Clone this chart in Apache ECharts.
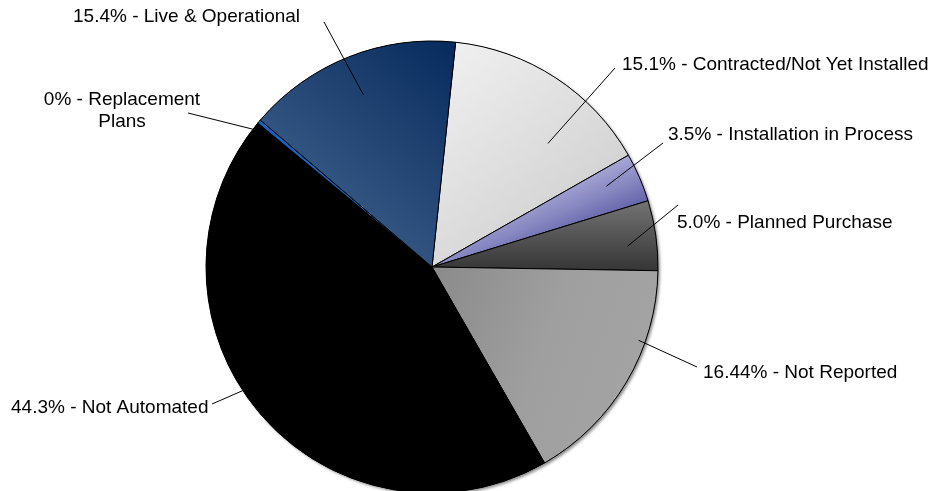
<!DOCTYPE html>
<html>
<head>
<meta charset="utf-8">
<title>Automation Status</title>
<script src="https://cdn.jsdelivr.net/npm/echarts@6/dist/echarts.min.js"></script>
<style>
  html, body { margin: 0; padding: 0; background: #ffffff; }
  #chart { width: 940px; height: 491px; }
</style>
</head>
<body>
<div id="chart"></div>
<script>
// Status categories, clockwise from the top of the pie
const categories = [
  'Contracted/Not Yet Installed',
  'Installation in Process',
  'Planned Purchase',
  'Not Reported',
  'Not Automated',
  'Replacement\nPlans',
  'Live & Operational'
];
// Share of respondents, percent
const shares = [15.1, 3.5, 5.0, 16.44, 44.3, 0, 15.4];
// Decimal places shown for each share
const shareDecimals = [1, 1, 1, 2, 1, 0, 1];

const CX = 432, CY = 267, R = 226;
const START_DEG = 6;     // first slice begins 6 degrees clockwise from 12 o'clock
const MIN_ANGLE = 1;     // smallest drawn slice, degrees

// Mid angle of every slice (degrees clockwise from 12 o'clock), following the
// pie layout: slices under MIN_ANGLE are widened and the rest share what is left.
function sliceMidAngles(values) {
  const total = values.reduce((a, b) => a + b, 0);
  let rest = 360, bigSum = 0;
  const raw = values.map(v => v / total * 360);
  raw.forEach((a, i) => { if (a < MIN_ANGLE) rest -= MIN_ANGLE; else bigSum += values[i]; });
  let acc = START_DEG;
  return values.map((v, i) => {
    const a = raw[i] < MIN_ANGLE ? MIN_ANGLE : v / bigSum * rest;
    const mid = acc + a / 2;
    acc += a;
    return mid;
  });
}
const midAngles = sliceMidAngles(shares);

// Gradient running across a slice (from its leading edge to its trailing edge)
function acrossSlice(i, halfWidth, stops) {
  const t = midAngles[i] * Math.PI / 180;
  const nx = Math.cos(t), ny = Math.sin(t);
  return {
    type: 'linear', global: true,
    x: CX - nx * halfWidth, y: CY - ny * halfWidth,
    x2: CX + nx * halfWidth, y2: CY + ny * halfWidth,
    colorStops: stops
  };
}

// Slice fills
const fills = [
  { type: 'linear', x: 0, y: 0, x2: 1, y2: 1, colorStops: [{ offset: 0, color: '#f2f2f2' }, { offset: 1, color: '#c8c8c8' }] },
  acrossSlice(1, 26, [{ offset: 0, color: '#a8a8d6' }, { offset: 0.5, color: '#8888c2' }, { offset: 1, color: '#6262a8' }]),
  { type: 'linear', x: 0, y: 0, x2: 0, y2: 1, colorStops: [{ offset: 0, color: '#747474' }, { offset: 1, color: '#353535' }] },
  { type: 'linear', x: 0, y: 0, x2: 1, y2: 0.4, colorStops: [{ offset: 0, color: '#8a8a8a' }, { offset: 0.55, color: '#9f9f9f' }, { offset: 1, color: '#a4a4a4' }] },
  '#000000',
  '#1563c4',
  { type: 'linear', x: 0, y: 1, x2: 1, y2: 0, colorStops: [{ offset: 0, color: '#4a6c96' }, { offset: 1, color: '#062a5c' }] }
];

// Label placement: text anchor, outer end of the leader line,
// and where the line ends inside the slice (fraction of radius, angle nudge in degrees)
const labelPlacement = [
  { x: 622, y: 65,  align: 'left',   end: [615, 68],  frac: 0.75, turn: 10 },
  { x: 668, y: 135, align: 'left',   end: [663, 143], frac: 0.85, turn: -1.5 },
  { x: 677, y: 223, align: 'left',   end: [678, 205], frac: 0.87, turn: 2 },
  { x: 703, y: 373, align: 'left',   end: [697, 367], frac: 0.97, turn: -11 },
  { x: 11,  y: 408, align: 'left',   end: [212, 404], frac: 1.0,  turn: 7 },
  { x: 122, y: 111, align: 'center', end: [188, 113], frac: 1.0,  turn: -2.5 },
  { x: 73,  y: 17,  align: 'left',   end: [324, 22],  frac: 0.82, turn: 0 }
];

// Leader lines: from a point inside each slice out to its label
const leaderLines = labelPlacement.map((place, i) => {
  const a = (midAngles[i] + place.turn) * Math.PI / 180;
  const r = R * place.frac;
  const inner = [CX + r * Math.sin(a), CY - r * Math.cos(a)];
  return {
    type: 'polyline',
    silent: true,
    z: 10,
    shape: { points: [inner, place.end] },
    style: { stroke: '#000', lineWidth: 1, fill: null }
  };
});

const pieData = categories.map((name, i) => ({
  name: name,
  value: shares[i],
  itemStyle: { color: fills[i] }
}));

const chart = echarts.init(document.getElementById('chart'), null, { renderer: 'canvas' });

chart.setOption({
  animation: false,
  backgroundColor: '#ffffff',
  graphic: { elements: leaderLines },
  series: [
    {
      // drop shadow disc behind the pie
      type: 'pie',
      silent: true,
      z: 1,
      center: [CX, CY],
      radius: R,
      label: { show: false },
      labelLine: { show: false },
      data: [{ value: 1 }],
      itemStyle: {
        color: '#000',
        shadowColor: 'rgba(0,0,0,0.45)',
        shadowBlur: 3,
        shadowOffsetX: 2,
        shadowOffsetY: 2
      }
    },
    {
      type: 'pie',
      z: 2,
      center: [CX, CY],
      radius: R,
      startAngle: 90 - START_DEG,
      clockwise: true,
      minAngle: MIN_ANGLE,
      avoidLabelOverlap: false,
      emphasis: { disabled: true },
      itemStyle: { borderColor: '#000', borderWidth: 1 },
      label: {
        show: true,
        position: 'outside',
        fontFamily: '"Liberation Sans", Arial, sans-serif',
        fontSize: 19,
        color: '#000',
        lineHeight: 22,
        formatter: p => shares[p.dataIndex].toFixed(shareDecimals[p.dataIndex]) + '% - ' + p.name
      },
      labelLine: { show: false },
      labelLayout: function (params) {
        const place = labelPlacement[params.dataIndex];
        return { x: place.x, y: place.y, align: place.align, verticalAlign: 'middle' };
      },
      data: pieData
    }
  ]
});
</script>
</body>
</html>
